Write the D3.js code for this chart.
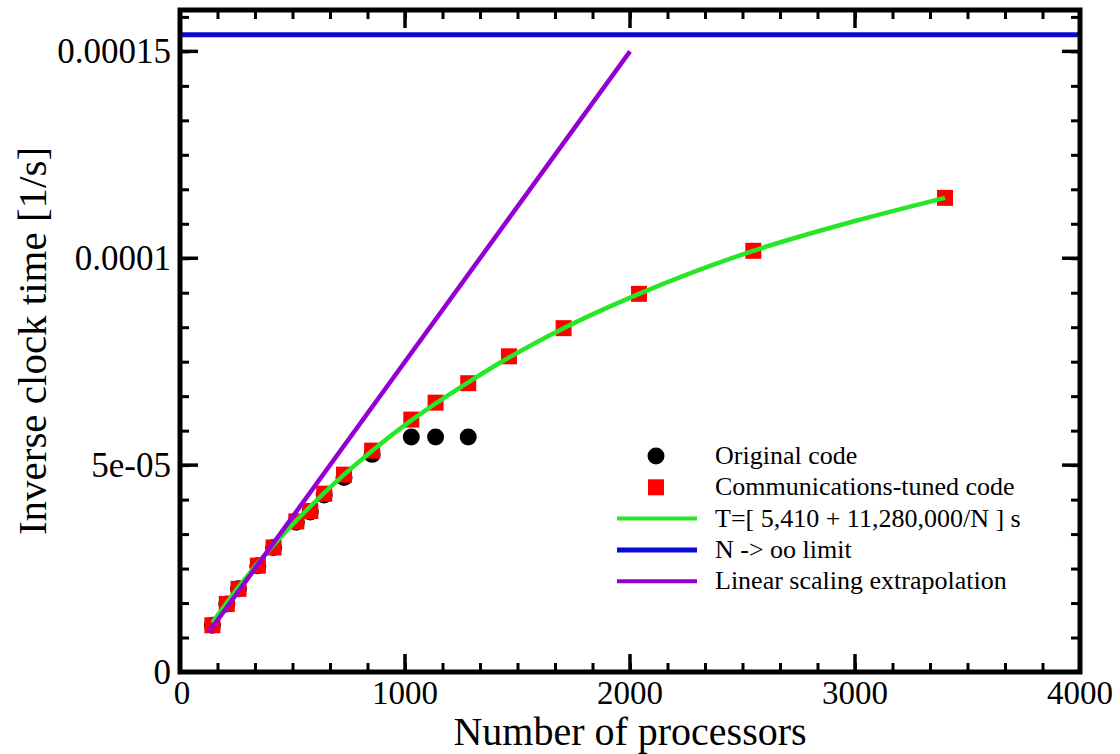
<!DOCTYPE html>
<html>
<head>
<meta charset="utf-8">
<script src="https://cdn.jsdelivr.net/npm/d3@7"></script>
<style>
  body { margin: 0; background: #fff; }
  text { font-family: "Liberation Serif", "DejaVu Serif", serif; fill: #000; }
</style>
</head>
<body>
<div class="chart"></div>
<script>
// data
const tunedN = [144, 208, 260, 346, 416, 517, 579, 641, 729, 854, 1028, 1136, 1281, 1462, 1705, 2040, 2548, 3400];
const tunedV = [1.13e-5, 1.645e-5, 2.01e-5, 2.57e-5, 3.01e-5, 3.64e-5, 3.89e-5, 4.31e-5, 4.77e-5, 5.35e-5,
   6.10e-5, 6.51e-5, 6.98e-5, 7.63e-5, 8.31e-5, 9.14e-5, 1.018e-4, 1.146e-4];

const origN = [144, 208, 260, 346, 416, 517, 579, 641, 729, 854, 1028, 1136, 1281];
const origV = [1.13e-5, 1.645e-5, 2.01e-5, 2.57e-5, 3.01e-5, 3.62e-5, 3.87e-5, 4.28e-5, 4.70e-5, 5.26e-5,
   5.68e-5, 5.68e-5, 5.68e-5];

const fitN = [144, 260, 416, 579, 729, 854, 1028, 1281, 1462, 1705, 2040, 2548, 3000, 3400];
const fitV = [1.19e-5, 2.05e-5, 3.07e-5, 4.0e-5, 4.77e-5, 5.35e-5, 6.08e-5, 7.0e-5, 7.6e-5, 8.31e-5,
   9.14e-5, 1.018e-4, 1.09e-4, 1.146e-4];

const linearN = [128, 2000];
const linearV = [9.6e-6, 1.5e-4];

const limitN = [0, 4000];
const limitV = [1.54e-4, 1.54e-4];

const xTicks = [0, 1000, 2000, 3000, 4000];
const xTickLabels = ["0", "1000", "2000", "3000", "4000"];
const yTicks = [0, 5e-5, 1e-4, 1.5e-4];
const yTickLabels = ["0", "5e-05", "0.0001", "0.00015"];

const legendLabels = [
   "Original code",
   "Communications-tuned code",
   "T=[ 5,410 + 11,280,000/N ] s",
   "N -> oo limit",
   "Linear scaling extrapolation"
];

// colours
const black = "#000";
const red = "#ff0000";
const green = "#26e626";
const blue = "#0a0ad2";
const violet = "#9400d3";

// setup chart
const width = 1120;
const height = 754;
const margin = { left: 180, right: 40, top: 10, bottom: 82 };
const svg = d3.select(".chart").append("svg").attr("width", width).attr("height", height);

const x = d3.scaleLinear().domain([0, 4000]).range([margin.left, width - margin.right]);
const y = d3.scaleLinear().domain([0, 0.00016]).range([height - margin.bottom, margin.top]);

const toPts = (ns, vs) => ns.map((n, i) => [n, vs[i]]);
const line = d3.line().x((d) => x(d[0])).y((d) => y(d[1]));

// original code (drawn first, squares cover it)
svg.append("g").selectAll("circle").data(toPts(origN, origV)).enter().append("circle")
   .attr("cx", (d) => x(d[0]))
   .attr("cy", (d) => y(d[1]))
   .attr("r", 8.5)
   .attr("fill", black);

// communications-tuned code
svg.append("g").selectAll("rect").data(toPts(tunedN, tunedV)).enter().append("rect")
   .attr("x", (d) => x(d[0]) - 8)
   .attr("y", (d) => y(d[1]) - 8)
   .attr("width", 16)
   .attr("height", 16)
   .attr("fill", red);

// fit curve
svg.append("path").datum(toPts(fitN, fitV))
   .attr("d", line.curve(d3.curveMonotoneX))
   .attr("fill", "none").attr("stroke", green).attr("stroke-width", 4.5);

// limit
svg.append("path").datum(toPts(limitN, limitV))
   .attr("d", d3.line().x((d) => x(d[0])).y((d) => y(d[1])))
   .attr("fill", "none").attr("stroke", blue).attr("stroke-width", 5);

// linear extrapolation
svg.append("path").datum(toPts(linearN, linearV))
   .attr("d", d3.line().x((d) => x(d[0])).y((d) => y(d[1])))
   .attr("fill", "none").attr("stroke", violet).attr("stroke-width", 4.5);

// axes: ticks inside on all four sides
const xMinor = d3.range(0, 4000.1, 1000 / 6);
const yMinor = d3.range(0, 0.00016 + 1e-9, 5e-5 / 6);
const majLen = 18, minLen = 9;

const bottomAxis = d3.axisBottom(x).tickValues(xMinor).tickSize(-minLen).tickFormat("");
const topAxis = d3.axisTop(x).tickValues(xMinor).tickSize(-minLen).tickFormat("");
const leftAxis = d3.axisLeft(y).tickValues(yMinor).tickSize(-minLen).tickFormat("");
const rightAxis = d3.axisRight(y).tickValues(yMinor).tickSize(-minLen).tickFormat("");

const axes = [
   [bottomAxis, `translate(0,${y(0)})`],
   [topAxis, `translate(0,${y(0.00016)})`],
   [leftAxis, `translate(${x(0)},0)`],
   [rightAxis, `translate(${x(4000)},0)`]
];
axes.forEach(([ax, tr]) => {
   const g = svg.append("g").attr("transform", tr).call(ax);
   g.select(".domain").remove();
   g.selectAll("line").attr("stroke", black).attr("stroke-width", 3);
});

// major ticks
const majX = svg.append("g");
xTicks.forEach((t) => {
   majX.append("line").attr("x1", x(t)).attr("x2", x(t)).attr("y1", y(0)).attr("y2", y(0) - majLen);
   majX.append("line").attr("x1", x(t)).attr("x2", x(t)).attr("y1", y(0.00016)).attr("y2", y(0.00016) + majLen);
});
yTicks.forEach((t) => {
   majX.append("line").attr("x1", x(0)).attr("x2", x(0) + majLen).attr("y1", y(t)).attr("y2", y(t));
   majX.append("line").attr("x1", x(4000)).attr("x2", x(4000) - majLen).attr("y1", y(t)).attr("y2", y(t));
});
majX.selectAll("line").attr("stroke", black).attr("stroke-width", 3.5);

// frame
svg.append("rect")
   .attr("x", x(0)).attr("y", y(0.00016))
   .attr("width", x(4000) - x(0)).attr("height", y(0) - y(0.00016))
   .attr("fill", "none").attr("stroke", black).attr("stroke-width", 5);

// tick labels
svg.append("g").selectAll("text").data(xTicks).enter().append("text")
   .attr("x", (d) => x(d) + (d === 0 ? 2 : 0))
   .attr("y", y(0) + 32)
   .attr("text-anchor", "middle")
   .style("font-size", "33px")
   .text((d, i) => xTickLabels[i]);

svg.append("g").selectAll("text").data(yTicks).enter().append("text")
   .attr("x", x(0) - 9)
   .attr("y", (d) => y(d) + 12)
   .attr("text-anchor", "end")
   .style("font-size", "35px")
   .text((d, i) => yTickLabels[i]);

// axis titles
svg.append("text")
   .attr("x", (x(0) + x(4000)) / 2)
   .attr("y", 745)
   .attr("text-anchor", "middle")
   .style("font-size", "40px")
   .text("Number of processors");

svg.append("text")
   .attr("transform", `translate(46,${(y(0) + y(0.00016)) / 2}) rotate(-90)`)
   .attr("text-anchor", "middle")
   .style("font-size", "41px")
   .text("Inverse clock time [1/s]");

// legend
const legend = svg.append("g").attr("transform", "translate(0,456)");
const rowH = 31.3;
const symX = 656, lineX0 = 617, lineX1 = 697, textX = 715;
legend.append("circle").attr("cx", symX).attr("cy", 0).attr("r", 8.5).attr("fill", black);
legend.append("rect").attr("x", symX - 8).attr("y", rowH - 8).attr("width", 16).attr("height", 16).attr("fill", red);
[[green, 4], [blue, 5], [violet, 4]].forEach(([c, w], i) => {
   legend.append("line")
      .attr("x1", lineX0).attr("x2", lineX1)
      .attr("y1", (i + 2) * rowH).attr("y2", (i + 2) * rowH)
      .attr("stroke", c).attr("stroke-width", w);
});
legend.selectAll("text.leg").data(legendLabels).enter().append("text")
   .attr("class", "leg")
   .attr("x", textX)
   .attr("y", (d, i) => i * rowH + 8)
   .style("font-size", "26px")
   .text((d) => d);
</script>
</body>
</html>
